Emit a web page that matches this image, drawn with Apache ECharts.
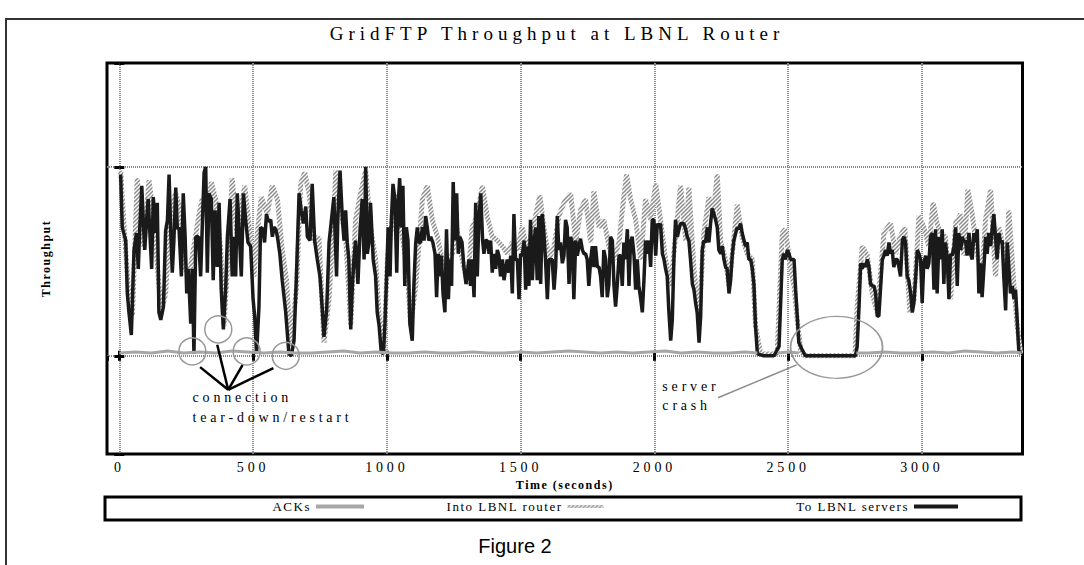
<!DOCTYPE html>
<html>
<head>
<meta charset="utf-8">
<script src="https://cdn.jsdelivr.net/npm/echarts@6/dist/echarts.min.js"></script>
<style>
  html, body { margin: 0; padding: 0; background: #fff; }
  #chart { width: 1084px; height: 565px; }
  /* the original figure uses wide letter spacing on its serif texts */
  #chart text { letter-spacing: 3.8px; }
  #chart text[style*="19px"] { letter-spacing: 5px; }
  #chart text[style*="13px"] { letter-spacing: 1.5px; }
  #chart text[style*="bold"] { letter-spacing: 1.5px; }
  #chart text[style*="Narrow"] { letter-spacing: 0; }
</style>
</head>
<body>
<div id="chart"></div>
<script>
var SERIF = "'Liberation Serif', 'Times New Roman', serif";

// "To LBNL servers" (black line), time in seconds
var toTimes = [5, 11, 24, 30, 36, 45, 55, 64, 71, 76, 84, 90, 95, 102, 108, 115, 121, 127, 136, 142, 148, 155, 165, 173, 180, 186, 192, 198, 204, 211, 217, 223, 232, 239, 246, 252, 258, 267, 273, 279, 286, 296, 304, 310, 317, 323, 329, 335, 344, 351, 358, 366, 373, 381, 389, 398, 404, 414, 422, 429, 435, 441, 450, 456, 464, 472, 481, 491, 500, 506, 513, 522, 528, 537, 543, 550, 557, 566, 572, 578, 585, 591, 600, 609, 622, 628, 634, 643, 653, 662, 672, 680, 688, 697, 703, 713, 721, 730, 740, 750, 759, 765, 775, 784, 793, 802,
  812, 817, 825, 834, 840, 846, 852, 858, 865, 871, 877, 883, 892, 900, 908, 915, 921, 927, 933, 939, 949, 958, 964, 971, 979, 987, 993, 999, 1005, 1012, 1017, 1023, 1030, 1037, 1042, 1048, 1054, 1060, 1067, 1073, 1079, 1086, 1095, 1101, 1108, 1114, 1120, 1126, 1133, 1139, 1145, 1151, 1157, 1164, 1172, 1180, 1186, 1192, 1199, 1204, 1210, 1217, 1223, 1230, 1236, 1242, 1248, 1255, 1261, 1267, 1273, 1281, 1288, 1296, 1301, 1307, 1313, 1319, 1326, 1332, 1338, 1344, 1351, 1358, 1363, 1369, 1375, 1382, 1388, 1394, 1400, 1407, 1413, 1419, 1425, 1432, 1438, 1444, 1450, 1456, 1463, 1469, 1475, 1481, 1488, 1494, 1500, 1506, 1513, 1519, 1525, 1531, 1537, 1544, 1550, 1556, 1562, 1568, 1575, 1581, 1587, 1593, 1600, 1606, 1612, 1618, 1625, 1631, 1637, 1643, 1649, 1656, 1662,
  1668, 1674, 1681, 1687, 1693, 1699, 1706, 1712, 1718, 1724, 1731, 1737, 1743, 1749, 1755, 1762, 1768, 1774, 1780, 1787, 1793, 1799, 1805, 1811, 1818, 1824, 1830, 1836, 1843, 1849, 1855, 1861, 1868, 1874, 1880, 1886, 1892, 1899, 1905, 1911, 1917, 1924, 1930, 1936, 1942, 1949, 1955, 1961, 1967, 1973, 1980, 1986, 1992, 1998, 2005, 2011, 2017, 2023, 2030, 2036, 2042, 2048, 2054, 2061, 2067, 2073, 2079, 2086, 2092, 2098, 2104, 2110, 2117, 2123, 2129, 2135, 2142, 2148, 2154, 2160, 2167, 2173, 2179, 2185, 2191, 2198, 2204, 2210, 2216, 2223, 2229, 2235, 2241, 2248, 2254, 2260, 2266, 2272, 2279, 2285, 2291, 2297, 2304, 2310, 2316, 2322, 2328, 2335, 2341, 2347, 2353, 2360, 2366, 2372, 2378, 2385, 2409, 2447, 2466, 2478, 2484, 2490, 2497, 2503, 2509, 2522,
  2528, 2534, 2540, 2553, 2565, 2752, 2758, 2765, 2771, 2777, 2783, 2789, 2796, 2802, 2808, 2814, 2821, 2827, 2833, 2839, 2846, 2852, 2858, 2864, 2870, 2877, 2883, 2889, 2895, 2902, 2908, 2914, 2920, 2927, 2933, 2939, 2945, 2951, 2958, 2964, 2970, 2976, 2983, 2989, 2995, 3001, 3007, 3014, 3020, 3026, 3032, 3039, 3045, 3051, 3057, 3064, 3070, 3076, 3082, 3088, 3095, 3101, 3107, 3113, 3120, 3126, 3132, 3138, 3145, 3151, 3157, 3163, 3169, 3176, 3182, 3188, 3194, 3201, 3207, 3213, 3219, 3225, 3232, 3238, 3244, 3250, 3257, 3263, 3269, 3275, 3281, 3288, 3294, 3300, 3306, 3313, 3319, 3325, 3331, 3338, 3344, 3350, 3356, 3362, 3369];
var toValues = [96, 68, 61, 33, 23, 11, 56, 65, 46, 66, 90, 70, 56, 72, 83, 63, 46, 84, 65, 81, 23, 19, 26, 66, 72, 96, 67, 44, 61, 89, 67, 68, 42, 86, 63, 33, 46, 17, 46, 1, 63, 63, 42, 68, 97, 100, 44, 86, 83, 40, 77, 47, 81, 35, 14, 37, 63, 83, 42, 63, 42, 86, 60, 42, 86, 72, 60, 58, 30, 21, 1, 26, 68, 67, 60, 75, 71, 72, 63, 68, 67, 63, 54, 40, 23, 12, 1, 0, 8, 42, 86, 77, 70, 79, 63, 61, 91, 61, 51, 42, 24, 10, 24, 60, 72, 84,
  42, 74, 98, 72, 61, 77, 60, 51, 14, 37, 51, 61, 38, 67, 83, 51, 100, 54, 60, 81, 51, 42, 23, 16, 2, 1, 17, 42, 68, 42, 72, 91, 83, 44, 79, 94, 68, 90, 37, 68, 61, 17, 8, 37, 60, 68, 60, 60, 68, 61, 74, 68, 61, 63, 60, 54, 31, 54, 42, 53, 33, 23, 67, 30, 51, 37, 92, 61, 86, 54, 63, 60, 47, 38, 44, 51, 37, 51, 31, 81, 42, 72, 86, 61, 54, 61, 61, 54, 61, 44, 54, 46, 56, 53, 42, 51, 40, 46, 51, 44, 53, 33, 75, 51, 51, 30, 54, 53, 61, 35, 58, 37, 72, 40, 60, 68, 40, 74, 38, 75, 65, 51, 30, 51, 51, 51, 35, 47, 74, 56, 60, 49, 53,
  72, 68, 38, 63, 60, 30, 61, 53, 58, 62, 56, 54, 54, 51, 37, 51, 58, 47, 58, 47, 47, 42, 31, 56, 51, 31, 38, 63, 61, 37, 26, 37, 53, 53, 37, 60, 51, 67, 37, 60, 63, 53, 35, 51, 37, 30, 23, 40, 61, 54, 61, 47, 72, 72, 53, 70, 68, 70, 54, 51, 46, 42, 24, 8, 19, 51, 72, 63, 67, 70, 70, 70, 67, 63, 61, 51, 38, 35, 28, 23, 7, 21, 56, 61, 60, 68, 60, 70, 78, 75, 72, 68, 56, 54, 58, 51, 47, 46, 33, 40, 53, 61, 65, 68, 67, 70, 65, 61, 58, 60, 51, 51, 46, 38, 16, 1, 0, 0, 5, 51, 54, 51, 56, 54, 51, 51,
  35, 21, 7, 3, 0, 0, 5, 26, 49, 46, 49, 47, 51, 47, 38, 37, 37, 33, 21, 21, 37, 51, 53, 56, 53, 60, 54, 56, 47, 51, 51, 47, 42, 61, 63, 60, 42, 40, 33, 23, 28, 40, 56, 54, 51, 28, 49, 53, 46, 49, 63, 65, 35, 67, 33, 63, 51, 67, 38, 60, 51, 30, 54, 53, 58, 68, 37, 65, 56, 63, 60, 61, 53, 65, 54, 51, 65, 60, 67, 33, 49, 31, 47, 63, 54, 65, 58, 68, 75, 63, 51, 65, 60, 61, 42, 24, 60, 47, 33, 37, 30, 35, 19, 3, 1];

// "Into LBNL router" (hatched grey line)
var intoTimes = [5, 18, 36, 49, 67, 80, 92, 111, 130, 148, 161, 173, 192, 211, 229, 248, 264, 279, 298, 310, 329, 344, 360, 379, 391, 410, 422, 439, 454, 469, 491, 503, 518, 531, 553, 572, 591, 609, 625, 640, 663, 678, 693, 709, 730, 746, 765, 784, 802,
  809, 827, 846, 865, 883, 902, 921, 939, 958, 971, 989, 1002, 1020, 1039, 1058, 1076, 1089, 1108, 1133, 1151, 1170, 1189, 1207, 1226, 1245, 1261, 1282, 1301, 1319, 1338, 1357, 1375, 1394, 1413, 1432, 1450, 1469, 1488, 1506, 1525, 1550, 1572, 1587, 1606, 1625, 1643, 1662,
  1687, 1706, 1724, 1743, 1762, 1774, 1793, 1811, 1830, 1849, 1868, 1880, 1896, 1911, 1930, 1949, 1967, 1986, 2005, 2023, 2042, 2061, 2079, 2098, 2117, 2129, 2148, 2167, 2185, 2204, 2220, 2235, 2248, 2266, 2279, 2291, 2310, 2328, 2347, 2366, 2378, 2397, 2459, 2478, 2490, 2509, 2522,
  2534, 2547, 2560, 2750, 2758, 2777, 2796, 2814, 2833, 2858, 2883, 2902, 2918, 2936, 2955, 2970, 2989, 3007, 3026, 3042, 3057, 3070, 3088, 3107, 3126, 3145, 3157, 3172, 3188, 3207, 3225, 3238, 3257, 3275, 3288, 3304, 3313, 3325, 3344, 3356, 3369];
var intoValues = [98, 68, 30, 21, 94, 68, 58, 93, 72, 37, 26, 33, 77, 86, 77, 45, 45, 58, 75, 83, 74, 92, 83, 56, 16, 60, 94, 65, 77, 90, 61, 42, 68, 84, 75, 90, 83, 56, 40, 5, 37, 91, 97, 86, 60, 63, 7, 30, 74,
  98, 77, 63, 16, 72, 86, 98, 68, 51, 21, 2, 51, 72, 86, 63, 46, 16, 37, 83, 90, 72, 63, 51, 46, 54, 68, 51, 38, 68, 74, 90, 74, 63, 61, 58, 54, 60, 56, 68, 56, 70, 85, 68, 51, 58, 74, 81,
  86, 60, 77, 83, 60, 87, 68, 72, 58, 51, 60, 77, 96, 83, 72, 51, 83, 72, 91, 72, 51, 37, 63, 90, 61, 89, 46, 19, 65, 84, 75, 96, 60, 51, 37, 54, 80, 63, 54, 51, 16, 1, 1, 65, 67, 46, 37,
  19, 3, 0, 0, 26, 58, 53, 33, 23, 65, 70, 54, 63, 68, 23, 29, 74, 68, 58, 81, 70, 65, 63, 30, 70, 75, 53, 88, 75, 54, 44, 72, 88, 42, 68, 58, 40, 77, 37, 16, 1];

// "ACKs" (flat grey line near zero, gaps while the servers were down)
var ackTimes = [0, 60, 120, 180, 240, 300, 360, 420, 480, 540, 600, 660, 720, 780, 840, 900, 960, 1020, 1080, 1140, 1200, 1260, 1320, 1380, 1440, 1500, 1560, 1620, 1680, 1740, 1800, 1860, 1920, 1980, 2040, 2100, 2160, 2220, 2280, 2340, 2385, 2390, 2462, 2500, 2540, 2545, 2755, 2800, 2860, 2920, 2980, 3040, 3100, 3160, 3220, 3280, 3340, 3372];
var ackValues = [1.5, 2, 1.5, 2.5, 1.5, 2, 1.5, 2.5, 2, 1.5, 2, 1.5, 1.5, 2, 2.5, 1.5, 2, 1.5, 1.5, 2, 1.5, 1.5, 2, 1.5, 1.5, 2, 1.5, 2, 2.5, 2, 1.5, 2, 1.5, 2, 2.5, 1.5, 2, 1.5, 1.5, 2, 1.5, null, 1.5, 2, 1.5, null, 1.5, 1.5, 2, 1.5, 1.5, 2, 1.5, 2.5, 2, 1.5, 2, 1.5];

// annotations, in data coordinates
var teardownCircles = [[273, 2.3], [370, 14], [476, 2.3], [622, 0]];
var teardownHub = [407, -18];
var teardownEnds = [[302, -6], [366, 5.8], [461, -4.8], [576, -6.5]];
var teardownText = [272, -27.5];
var crashText = [2028, -21.4];
var crashPointer = [[2238, -22.2], [2532, -4.8]];
var crashEllipse = [2681, 4.5];

function pairs(ts, vs) {
  return ts.map(function (t, i) { return [t, vs[i]]; });
}

// diagonal hatch used for the "Into LBNL router" stroke
var hatch = document.createElement('canvas');
hatch.width = 4;
hatch.height = 4;
var hctx = hatch.getContext('2d');
hctx.fillStyle = '#ffffff';
hctx.fillRect(0, 0, 4, 4);
hctx.strokeStyle = '#8a8a8a';
hctx.lineWidth = 1.5;
hctx.beginPath();
hctx.moveTo(0, 4); hctx.lineTo(4, 0);
hctx.moveTo(-1, 1); hctx.lineTo(1, -1);
hctx.moveTo(3, 5); hctx.lineTo(5, 3);
hctx.stroke();
var hatchPattern = { image: hatch, repeat: 'repeat', imageWidth: 4, imageHeight: 4 };

var chart = echarts.init(document.getElementById('chart'), null, { renderer: 'svg' });

var markLines = teardownEnds.map(function (p) {
  return [{ coord: teardownHub }, { coord: p }];
});
markLines.push([{ coord: crashPointer[0], lineStyle: { color: '#8c8c8c', width: 1.5 } }, { coord: crashPointer[1] }]);

var markPoints = teardownCircles.map(function (p) {
  return { coord: p, symbol: 'circle', symbolSize: 27 };
});
markPoints.push({ coord: crashEllipse, symbol: 'circle', symbolSize: [92, 62] });
markPoints.push({
  coord: teardownText, symbol: 'circle', symbolSize: 1,
  itemStyle: { borderWidth: 0 },
  label: { show: true, position: 'right', distance: 0, formatter: 'connection\ntear-down/restart', lineHeight: 20 }
});
markPoints.push({
  coord: crashText, symbol: 'circle', symbolSize: 1,
  itemStyle: { borderWidth: 0 },
  label: { show: true, position: 'right', distance: 0, formatter: 'server\ncrash', lineHeight: 19 }
});

var tickStyle = { inside: true, length: 5, lineStyle: { color: '#000', width: 3 } };
var legendBase = {
  top: 500, itemHeight: 14, align: 'right', padding: 0, selectedMode: false,
  itemStyle: { opacity: 0 },
  textStyle: { fontFamily: SERIF, fontSize: 13, color: '#000' }
};

option = {
  backgroundColor: '#fff',
  animation: false,
  graphic: [
    { type: 'rect', shape: { x: 6, y: 19, width: 1100, height: 600 }, style: { fill: null, stroke: '#333', lineWidth: 2 }, silent: true },
    { type: 'rect', shape: { x: 105, y: 497, width: 916, height: 23 }, style: { fill: null, stroke: '#000', lineWidth: 3 }, silent: true },
    {
      type: 'text', x: 557, y: 33,
      style: { text: 'GridFTP Throughput at LBNL Router', fill: '#000', font: '19px ' + SERIF, textAlign: 'center', textVerticalAlign: 'middle' }
    },
    {
      type: 'text', x: 515, y: 546,
      style: { text: 'Figure 2', fill: '#000', font: "20px 'Liberation Sans Narrow', 'Liberation Sans', Arial, sans-serif", textAlign: 'center', textVerticalAlign: 'middle' }
    }
  ],
  legend: [
    Object.assign({ data: ['ACKs'], right: 718, itemWidth: 48, lineStyle: { width: 4 } }, legendBase),
    Object.assign({ data: ['Into LBNL router'], right: 479, itemWidth: 36, lineStyle: { width: 3 } }, legendBase),
    Object.assign({ data: ['To LBNL servers'], right: 124, itemWidth: 44, lineStyle: { width: 4 } }, legendBase)
  ],
  grid: {
    left: 107, right: 61.5, top: 63, bottom: 111,
    show: true, borderColor: '#000', borderWidth: 3, backgroundColor: 'transparent',
    outerBoundsMode: 'none'
  },
  xAxis: [{
    type: 'value', position: 'bottom', min: -46, max: 3376, splitNumber: 7,
    name: 'Time (seconds)', nameLocation: 'middle', nameGap: 22,
    nameTextStyle: { fontFamily: SERIF, fontSize: 12, fontWeight: 'bold', color: '#000' },
    axisLine: { show: false },
    axisTick: tickStyle,
    axisLabel: {
      showMinLabel: false, showMaxLabel: false, margin: 6, fontFamily: SERIF, fontSize: 14, color: '#000',
      formatter: function (v) { return String(v); }
    },
    splitLine: { show: true, showMinLine: false, showMaxLine: false, lineStyle: { color: '#8a8a8a', width: 2, type: [1, 1] } }
  }, {
    type: 'value', position: 'top', min: -46, max: 3376, splitNumber: 7,
    axisLine: { show: false }, axisTick: tickStyle, axisLabel: { show: false }, splitLine: { show: false }
  }],
  yAxis: [{
    type: 'value', position: 'left', min: -52, max: 155, splitNumber: 2,
    name: 'Throughput', nameLocation: 'middle', nameGap: 55, nameRotate: 90,
    nameTextStyle: { fontFamily: SERIF, fontSize: 12, fontWeight: 'bold', color: '#000' },
    axisLine: { show: false }, axisTick: tickStyle, axisLabel: { show: false },
    splitLine: { show: true, showMinLine: false, showMaxLine: false, lineStyle: { color: '#8a8a8a', width: 2, type: [1, 1] } }
  }, {
    type: 'value', position: 'right', min: -52, max: 155, splitNumber: 2,
    axisLine: { show: false }, axisTick: tickStyle, axisLabel: { show: false }, splitLine: { show: false }
  }],
  series: [{
    name: 'Into LBNL router', type: 'line', symbol: 'none', color: '#8a8a8a',
    emphasis: { disabled: true }, z: 2,
    lineStyle: { color: hatchPattern, width: 5, join: 'bevel' },
    data: pairs(intoTimes, intoValues)
  }, {
    name: 'To LBNL servers', type: 'line', symbol: 'none', color: '#1a1a1a',
    emphasis: { disabled: true }, z: 3,
    lineStyle: { color: '#1a1a1a', width: 3.5, join: 'bevel' },
    data: pairs(toTimes, toValues)
  }, {
    name: 'ACKs', type: 'line', symbol: 'none', color: '#a6a6a6',
    emphasis: { disabled: true }, z: 4, connectNulls: false,
    lineStyle: { color: '#a6a6a6', width: 3 },
    data: pairs(ackTimes, ackValues),
    markLine: {
      silent: true, symbol: ['none', 'none'], animation: false,
      label: { show: false },
      lineStyle: { color: '#000', width: 2.5, type: 'solid' },
      emphasis: { disabled: true },
      data: markLines
    },
    markPoint: {
      silent: true, animation: false,
      itemStyle: { color: 'rgba(0,0,0,0)', borderColor: '#999', borderWidth: 1.5 },
      label: { show: false, fontFamily: SERIF, fontSize: 14, color: '#000' },
      data: markPoints
    }
  }]
};

chart.setOption(option);
</script>
</body>
</html>
